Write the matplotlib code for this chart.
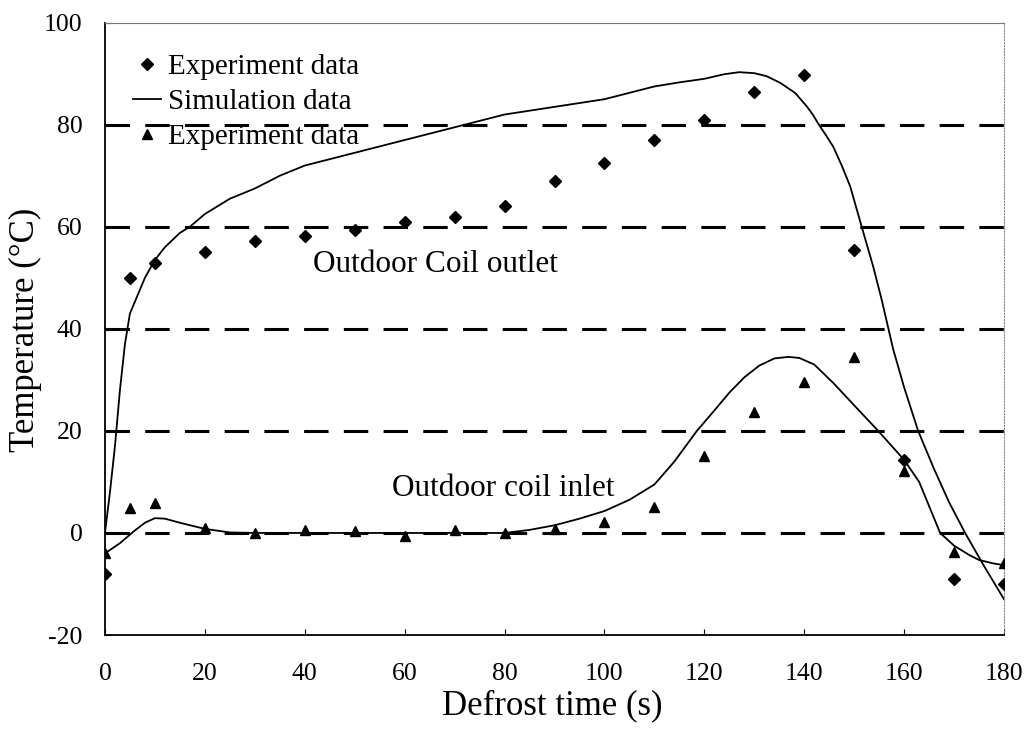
import numpy as np
import matplotlib
matplotlib.use("Agg")
import matplotlib.pyplot as plt

plt.rcParams['font.family'] = ['Liberation Serif', 'DejaVu Serif']
plt.rcParams['axes.unicode_minus'] = False

# experiment data
t_exp = [0, 5, 10, 20, 30, 40, 50, 60, 70, 80, 90, 100, 110, 120, 130, 140, 150, 160, 170, 180]
outlet_exp = [-8.0, 50, 53, 55, 57.3, 58.2, 59.4, 61, 62, 64, 69, 72.5, 77, 81, 86.5, 89.8, 55.5, 14.3, -9.0, -10.0]
inlet_exp = [-4.0, 4.9, 5.9, 1.0, 0.0, 0.5, 0.3, -0.6, 0.5, 0.0, 0.8, 2.2, 5.0, 15.0, 23.8, 29.6, 34.5, 12.2, -3.7, -5.9]

# simulation curves
t_sim_out = [0, 1, 2, 3, 4, 5, 6.5, 8, 10, 12, 15, 17, 20, 25, 30, 35, 40, 50, 60, 70, 80, 90, 100, 110,
             115, 120, 124, 127, 130, 132.5, 135.2, 138.2, 140.5, 141.7, 142.8, 144.3, 145.8, 147.5, 149.2,
             151.5, 153.8, 155.5, 157.8, 160, 162.8, 166, 169, 172.2, 176, 180]
outlet_sim = [0, 8, 17, 28, 37, 43, 46.5, 50, 53.5, 56, 58.8, 60, 62.5, 65.5, 67.5, 70, 72, 74.5, 77, 79.5,
              82, 83.5, 85, 87.5, 88.3, 89, 89.9, 90.3, 90.1, 89.5, 88.2, 86.2, 83.6, 82, 80.2, 78, 75.7, 72,
              67.9, 60, 52.2, 45.7, 36, 28.5, 20, 12.5, 6, 0, -6.5, -13]

t_sim_in = [0, 3, 6, 8, 10, 12, 15, 20, 25, 30, 40, 50, 60, 70, 80, 85, 90, 95, 100, 105, 110, 114, 118.5,
            122, 125, 128, 131, 134, 136.8, 139, 142, 145.8, 150, 154.8, 158, 160, 163, 167.2, 170, 173,
            175, 178, 180]
inlet_sim = [-4, -2, 0.5, 2, 2.9, 2.8, 2.0, 0.8, 0.1, 0, 0, 0, 0, 0, 0, 0.6, 1.5, 2.8, 4.3, 6.5, 9.5, 14,
             20, 24, 27.5, 30.5, 32.8, 34.2, 34.5, 34.3, 33, 29.4, 25, 20, 16.5, 14.3, 10, 0, -2.5, -4.3,
             -5.3, -6, -6.3]

fig = plt.figure(figsize=(10.33, 7.31), dpi=100)
ax = fig.add_axes([0.1016, 0.1313, 0.8704, 0.8377])

for yv in [0, 20, 40, 60, 80]:
    ax.axhline(yv, color='black', lw=2.2, dashes=(8, 5), zorder=1)

ax.plot(t_exp, outlet_exp, 'D', color='black', ms=6.5, label='Experiment data', zorder=3)
ax.plot(t_sim_out, outlet_sim, '-', color='black', lw=1.3, label='Simulation data', zorder=2)
ax.plot(t_exp, inlet_exp, '^', color='black', ms=7.5, label='Experiment data', zorder=3)
ax.plot(t_sim_in, inlet_sim, '-', color='black', lw=1.3, zorder=2)

ax.text(41.7, 52.6, 'Outdoor Coil outlet', fontsize=22.5, va='center', ha='left')
ax.text(57.5, 8.7, 'Outdoor coil inlet', fontsize=22.5, va='center', ha='left')

ax.set_xlim(0, 180)
ax.set_ylim(-20, 100)
ax.set_xticks(range(0, 181, 20))
ax.set_yticks(range(-20, 101, 20))
ax.tick_params(axis='x', direction='in', length=4, pad=20, labelsize=18.5)
ax.tick_params(axis='y', direction='in', length=4, pad=16, labelsize=18.5)

for s in ['left', 'bottom']:
    ax.spines[s].set_linewidth(1.3)
ax.spines['top'].set_linewidth(0.8)
ax.spines['top'].set_color('#777777')
ax.spines['right'].set_linewidth(0.8)
ax.spines['right'].set_color('#888888')
ax.spines['right'].set_linestyle(':')

ax.set_xlabel('Defrost time (s)', fontsize=25)
ax.set_ylabel('Temperature (\u00b0C)', fontsize=25)
ax.xaxis.set_label_coords(0.498, -0.089)
ax.yaxis.set_label_coords(-0.070, 0.498)

leg = ax.legend(loc='upper left', bbox_to_anchor=(133 / 1033, 1 - 54 / 731),
                bbox_transform=fig.transFigure, frameon=False, fontsize=21,
                handlelength=0.95, handletextpad=0.25, labelspacing=0.29,
                borderpad=0, borderaxespad=0)

fig.savefig('out.png', dpi=100)
